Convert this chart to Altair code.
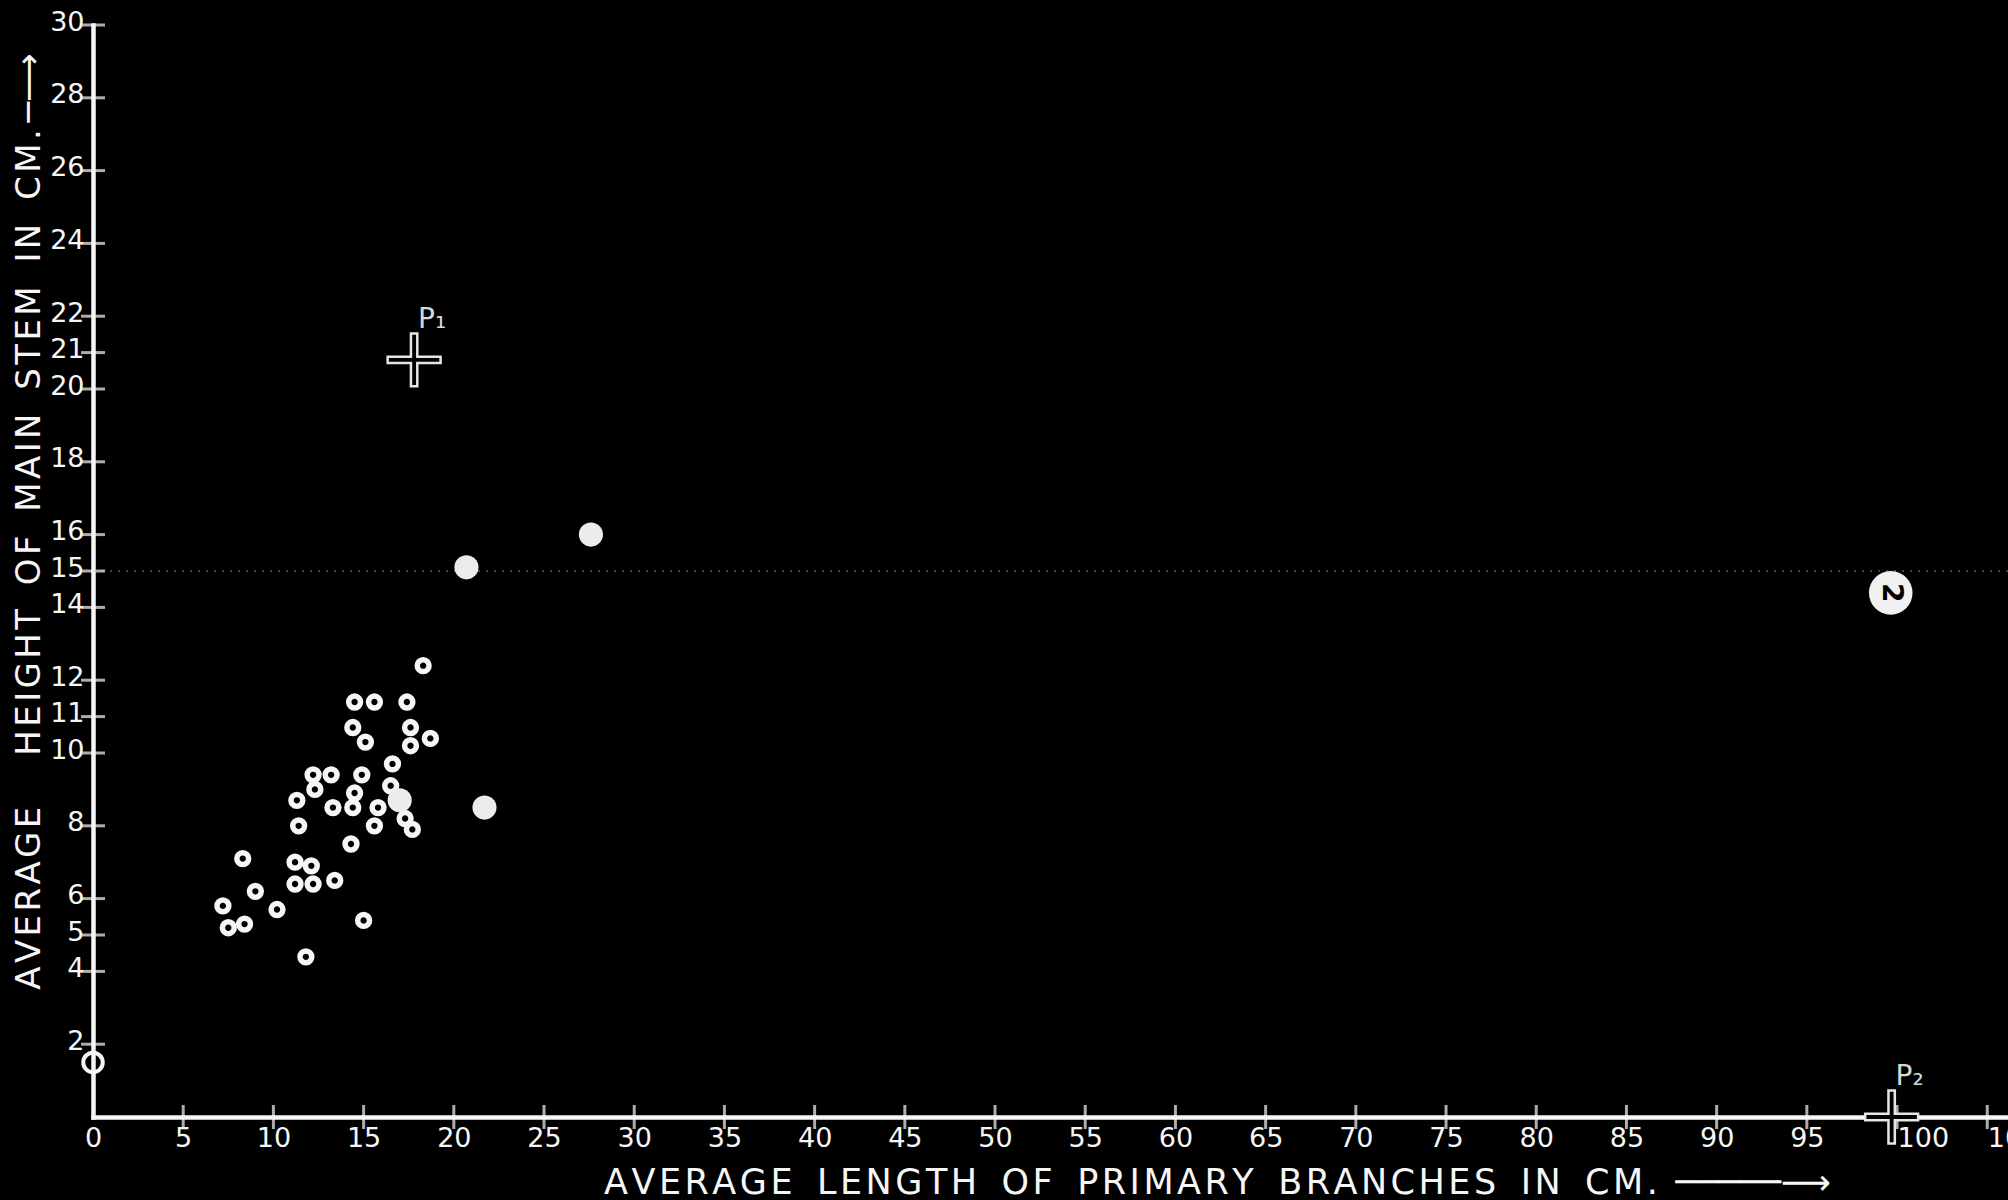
import altair as alt
import pandas as pd

# ringed (open) observations: average primary-branch length vs main-stem height, cm
open_x = [18.3, 14.5, 15.6, 17.4, 14.4, 17.6, 15.1, 18.7, 17.6, 16.6,
          12.2, 13.2, 14.9, 12.3, 14.5, 16.5, 11.3, 13.3, 14.4, 15.8,
          17.3, 11.4, 15.6, 17.7, 14.3, 8.3, 11.2, 12.1, 11.2, 12.2,
          13.4, 9.0, 7.2, 10.2, 7.5, 8.4, 15.0, 11.8]
open_y = [12.4, 11.4, 11.4, 11.4, 10.7, 10.7, 10.3, 10.4, 10.2, 9.7,
          9.4, 9.4, 9.4, 9.0, 8.9, 9.1, 8.7, 8.5, 8.5, 8.5,
          8.2, 8.0, 8.0, 7.9, 7.5, 7.1, 7.0, 6.9, 6.4, 6.4,
          6.5, 6.2, 5.8, 5.7, 5.2, 5.3, 5.4, 4.4]

# solid observations
solid_x = [20.7, 27.6, 17.0, 21.7]
solid_y = [15.1, 16.0, 8.7, 8.5]

# large numbered point
big_x = [99.65]
big_y = [14.4]
big_label = ["2"]

# ringed point sitting on the height axis
axis_pt_x = [0.0]
axis_pt_y = [1.5]

# parent plants P1 and P2
parent_x = [17.8, 99.7]
parent_y = [20.8, 0.0]
parent_label = ["P\u2081", "P\u2082"]

# axis tick values
x_ticks = list(range(0, 106, 5))
y_ticks = [2, 4, 5, 6, 8, 10, 11, 12, 14, 15, 16, 18, 20, 21, 22, 24, 26, 28, 30]
ref_height = [15]

FONT = "DejaVu Sans"
INK = "#f6f6f6"

WORD_GAP = "\u2002\u2009"


def spaced(text):
    words = text.split(" ")
    return WORD_GAP.join("\u200a".join(w) for w in words)


x_title = spaced("AVERAGE LENGTH OF PRIMARY BRANCHES IN CM.") + "\u2002\u2500\u2500\u2500\u2500\u2500\u27f6"
y_title = spaced("AVERAGE") + "\u2003\u2002" + spaced("HEIGHT OF MAIN STEM IN CM.") + "\u2009\u2500\u27f6"

x_scale = alt.Scale(domain=[0, 106.15], nice=False, zero=False)
y_scale = alt.Scale(domain=[0, 30], nice=False, zero=False)

# three-digit labels sit just right of their ticks
x_label_align = {"condition": {"test": "datum.value >= 100", "value": "left"}, "value": "center"}

x_axis = alt.Axis(values=x_ticks, title=x_title, labelPadding=8, labelFontSize=27,
                  labelAlign=x_label_align,
                  titleX=1124, titleY=76, titleAlign="center", titleBaseline="alphabetic",
                  titleFontSize=35)
y_axis = alt.Axis(values=y_ticks, title=y_title, labelPadding=9, labelFontSize=27,
                  labelOffset=-3, titleX=-64, titleY=496, titleAlign="center",
                  titleBaseline="middle", titleAngle=270, titleFontSize=34)


def X(field):
    return alt.X(field, type="quantitative", scale=x_scale, axis=x_axis)


def Y(field):
    return alt.Y(field, type="quantitative", scale=y_scale, axis=y_axis)


open_df = pd.DataFrame({"x": open_x, "y": open_y})
solid_df = pd.DataFrame({"x": solid_x, "y": solid_y})
big_df = pd.DataFrame({"x": big_x, "y": big_y, "label": big_label})
axis_pt_df = pd.DataFrame({"x": axis_pt_x, "y": axis_pt_y})
parent_df = pd.DataFrame({"x": parent_x, "y": parent_y, "label": parent_label})
xt_df = pd.DataFrame({"x": [v for v in x_ticks if v > 0]})
yt_df = pd.DataFrame({"y": y_ticks})
ref_df = pd.DataFrame({"y": ref_height})

# faint dotted guide at height 15
guide = alt.Chart(ref_df).mark_rule(color="#5a5a5a", strokeWidth=1.5, strokeDash=[2, 6]).encode(
    y=Y("y"))

# crossing tick marks on both axes
x_tick_marks = alt.Chart(xt_df).mark_tick(orient="vertical", size=24, thickness=3, color=INK).encode(
    x=X("x"), y=alt.YDatum(0, scale=y_scale, axis=y_axis))
y_tick_marks = alt.Chart(yt_df).mark_tick(orient="horizontal", size=24, thickness=3, color=INK).encode(
    y=Y("y"), x=alt.XDatum(0, scale=x_scale, axis=x_axis))

rings = alt.Chart(open_df).mark_point(shape="circle", filled=False, color=INK, size=140,
                                      strokeWidth=5.5, opacity=1).encode(x=X("x"), y=Y("y"))

solids = alt.Chart(solid_df).mark_circle(color="#ececec", size=580, opacity=1).encode(
    x=X("x"), y=Y("y"))

axis_ring = alt.Chart(axis_pt_df).mark_point(shape="circle", filled=False, color=INK, size=380,
                                             strokeWidth=4, opacity=1).encode(x=X("x"), y=Y("y"))

big = alt.Chart(big_df).mark_circle(color="#f0f0f0", size=1900, opacity=1).encode(
    x=X("x"), y=Y("y"))
big_text = alt.Chart(big_df).mark_text(color="black", font=FONT, fontSize=28, fontWeight="bold",
                                       angle=90, baseline="middle", align="center").encode(
    x=X("x"), y=Y("y"), text="label:N")

PLUS = "M-1,-0.12H-0.12V-1H0.12V-0.12H1V0.12H0.12V1H-0.12V0.12H-1Z"
parents = alt.Chart(parent_df).mark_point(shape=PLUS, filled=True, fill="black", stroke="#e6e6e6",
                                          strokeWidth=2.5, size=2800, opacity=1).encode(
    x=X("x"), y=Y("y"))
parent_text = alt.Chart(parent_df).mark_text(color="#d8d8d8", font=FONT, fontSize=28, dx=18, dy=-40,
                                             align="center", baseline="middle").encode(
    x=X("x"), y=Y("y"), text="label:N")

chart = alt.layer(
    guide, x_tick_marks, y_tick_marks, rings, solids, axis_ring,
    big, big_text, parents, parent_text,
).properties(
    width=1915,
    height=1092,
    padding={"left": 93, "top": 25, "right": 0, "bottom": 83},
    autosize=alt.AutoSizeParams(type="none"),
    background="black",
).configure_view(
    stroke=None,
).configure_axis(
    grid=False,
    ticks=False,
    tickSize=0,
    domainColor=INK,
    domainWidth=4.5,
    domainCap="square",
    labelColor=INK,
    labelFont=FONT,
    titleColor=INK,
    titleFont=FONT,
    titleFontWeight="normal",
    labelOverlap=False,
    labelBound=False,
)

chart.save("out.html", embed_options={"renderer": "svg", "actions": False})
